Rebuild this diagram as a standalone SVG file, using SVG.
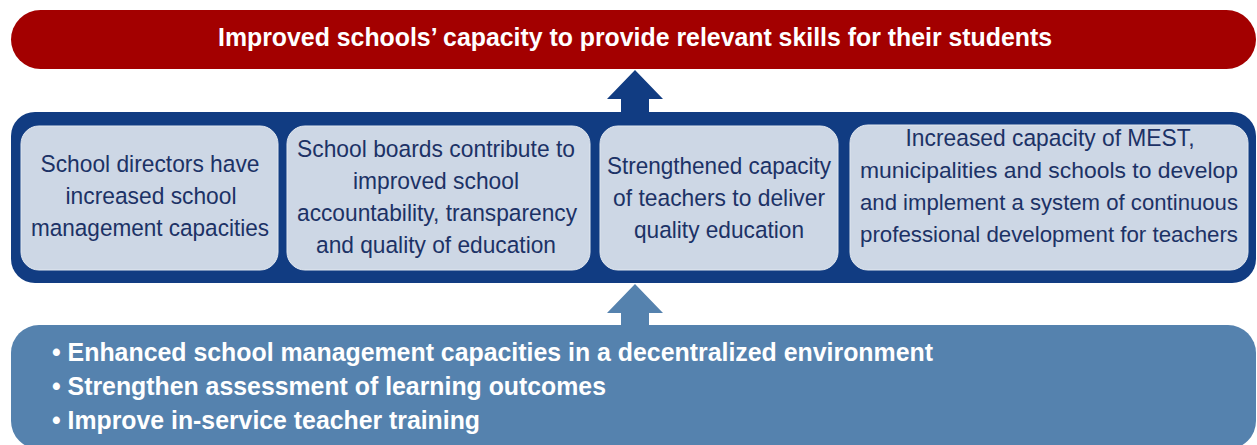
<svg xmlns="http://www.w3.org/2000/svg" width="1257" height="445" viewBox="0 0 1257 445">
<style>
.box{fill:#cdd7e5;stroke:#e2e8f0;stroke-width:1}
.bt{font-family:"Liberation Sans",Arial,sans-serif;font-size:24.5px;fill:#1c3266;text-anchor:middle}
.bt.s{font-size:22.5px}
.wt{font-family:"Liberation Sans",Arial,sans-serif;font-weight:bold;fill:#ffffff}
</style>
<rect width="1257" height="445" fill="#ffffff"/>
<g id="goal">
<rect x="11" y="10" width="1245" height="59" rx="29.5" fill="#a30000"/>
<text class="wt" x="635" y="46" font-size="26" text-anchor="middle" textLength="834" lengthAdjust="spacingAndGlyphs">Improved schools’ capacity to provide relevant skills for their students</text>
</g>
<g id="outcomes">
<rect x="11" y="112" width="1245" height="171" rx="24" fill="#113c82"/>
</g>
<g id="box1">
<rect class="box" x="21" y="126" width="257" height="144" rx="18"/>
<text class="bt" x="150" y="172" textLength="219" lengthAdjust="spacingAndGlyphs">School directors have</text>
<text class="bt" x="151" y="204" textLength="171" lengthAdjust="spacingAndGlyphs">increased school</text>
<text class="bt" x="150" y="236" textLength="238" lengthAdjust="spacingAndGlyphs">management capacities</text>
</g>
<g id="box2">
<rect class="box" x="287" y="126" width="303" height="144" rx="18"/>
<text class="bt" x="436" y="157" textLength="278" lengthAdjust="spacingAndGlyphs">School boards contribute to</text>
<text class="bt" x="436" y="189" textLength="166" lengthAdjust="spacingAndGlyphs">improved school</text>
<text class="bt" x="437" y="221" textLength="280" lengthAdjust="spacingAndGlyphs">accountability, transparency</text>
<text class="bt" x="436" y="253" textLength="240" lengthAdjust="spacingAndGlyphs">and quality of education</text>
</g>
<g id="box3">
<rect class="box" x="600" y="126" width="238" height="144" rx="18"/>
<text class="bt" x="719" y="174" textLength="224" lengthAdjust="spacingAndGlyphs">Strengthened capacity</text>
<text class="bt" x="719" y="206" textLength="212" lengthAdjust="spacingAndGlyphs">of teachers to deliver</text>
<text class="bt" x="719" y="238" textLength="170" lengthAdjust="spacingAndGlyphs">quality education</text>
</g>
<g id="box4">
<rect class="box" x="850" y="125" width="398" height="145" rx="18"/>
<text class="bt" x="1050" y="146" textLength="289" lengthAdjust="spacingAndGlyphs">Increased capacity of MEST,</text>
<text class="bt s" x="1049" y="178" textLength="378" lengthAdjust="spacingAndGlyphs">municipalities and schools to develop</text>
<text class="bt s" x="1049" y="210" textLength="378" lengthAdjust="spacingAndGlyphs">and implement a system of continuous</text>
<text class="bt s" x="1049" y="242" textLength="378" lengthAdjust="spacingAndGlyphs">professional development for teachers</text>
</g>
<g id="activities">
<rect x="11" y="325" width="1245" height="124" rx="28" fill="#5582ae"/>
<text class="wt" x="52" y="361" font-size="26" textLength="881" lengthAdjust="spacingAndGlyphs">• Enhanced school management capacities in a decentralized environment</text>
<text class="wt" x="52" y="395" font-size="26" textLength="554" lengthAdjust="spacingAndGlyphs">• Strengthen assessment of learning outcomes</text>
<text class="wt" x="52" y="429" font-size="26" textLength="428" lengthAdjust="spacingAndGlyphs">• Improve in-service teacher training</text>
</g>
<g id="connectors">
<polygon points="635,70 663,99 649,99 649,113 621,113 621,99 607,99" fill="#113c82"/>
<polygon points="635,284 663,313 649,313 649,326 621,326 621,313 607,313" fill="#5582ae"/>
</g>
</svg>
